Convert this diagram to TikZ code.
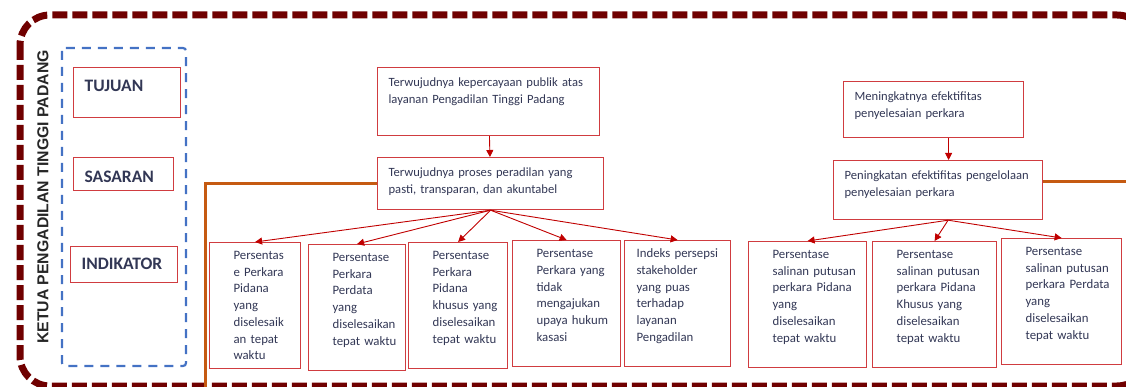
\documentclass[tikz,border=0pt]{standalone}
\usepackage{fontspec}
\setmainfont{Carlito}
\newfontfamily\judulfont{Liberation Sans}
\usetikzlibrary{arrows.meta}

\definecolor{bingkai}{RGB}{112,0,0}
\definecolor{garisbiru}{RGB}{68,114,196}
\definecolor{kotak}{RGB}{208,60,64}
\definecolor{panah}{RGB}{192,0,0}
\definecolor{jingga}{RGB}{197,90,17}
\definecolor{teks}{RGB}{50,55,85}

\begin{document}
\begin{tikzpicture}[x=1pt, y=-1pt]
        \useasboundingbox (0,0) rectangle (1126,387);
        \draw[bingkai, line width=7pt, dash pattern=on 15pt off 5pt, rounded corners=30pt] (20,15) rectangle (1147,386);
        \draw[garisbiru, line width=2.2pt, dash pattern=on 9pt off 7pt, rounded corners=3pt] (62,48) rectangle (186,366);
        \node[font=\judulfont\bfseries\fontsize{15.8}{15.8}\selectfont, rotate=90, text=black!85] (ketua) at (43,197) {KETUA PENGADILAN TINGGI PADANG};
        \coordinate (kiribawah) at (205,392);
        \coordinate (kanan) at (1130,182);
        \begin{scope}[every node/.style={draw=kotak, line width=1.2pt, anchor=north west, align=left, inner xsep=11pt, text=teks, font=\bfseries\fontsize{17.5}{17.5}\selectfont}]
            \node[text width=85pt, inner ysep=8pt, text height=15.5pt, text depth=18.5pt] (tujuan) at (73,67) {TUJUAN};
            \node[text width=78pt, inner ysep=4pt, text height=20.5pt, text depth=4.5pt] (sasaran) at (73,157) {SASARAN};
            \node[text width=85pt, inner ysep=4pt, text height=18.5pt, text depth=9.5pt] (indikator) at (70,246) {INDIKATOR};
        \end{scope}
        \begin{scope}[every node/.style={draw=kotak, line width=1.2pt, anchor=north west, align=left, inner xsep=4pt, inner ysep=9.5pt, text height=9pt, text=teks, execute at begin node={\leftskip=7pt}, font=\fontsize{12.6}{17.5}\selectfont}]
            \node[text width=214pt, text depth=40pt] (t1) at (377,67) {Terwujudnya kepercayaan publik atas\\ layanan Pengadilan Tinggi Padang};
            \node[text width=218pt, text depth=24pt] (s1) at (377,157) {Terwujudnya proses peradilan yang\\ pasti, transparan, dan akuntabel};
            \node[text width=172pt, text depth=28pt] (t2) at (843,81) {Meningkatnya efektifitas\\ penyelesaian perkara};
            \node[text width=201pt, text depth=31pt] (s2) at (833,160) {Peningkatan efektifitas pengelolaan\\ penyelesaian perkara};
        \end{scope}
        \begin{scope}[every node/.style={draw=kotak, line width=1.2pt, anchor=north west, align=left, inner xsep=6pt, inner ysep=8pt, text height=9pt, text depth=101pt, text=teks, execute at begin node={\leftskip=18pt}, font=\fontsize{12.8}{16.7}\selectfont}]
            \node[text width=79pt] (i1) at (209,242) {Persentas\\ e Perkara\\ Pidana\\ yang\\ diselesaik\\ an tepat\\ waktu};
            \node[text width=85pt] (i2) at (308,244) {Persentase\\ Perkara\\ Perdata\\ yang\\ diselesaikan\\ tepat waktu};
            \node[text width=87pt] (i3) at (408,242) {Persentase\\ Perkara\\ Pidana\\ khusus yang\\ diselesaikan\\ tepat waktu};
            \node[text width=96pt] (i4) at (512,240) {Persentase\\ Perkara yang\\ tidak\\ mengajukan\\ upaya hukum\\ kasasi};
            \node[text width=94pt, execute at begin node={\leftskip=6pt}] (i5) at (624,240) {Indeks persepsi\\ stakeholder\\ yang puas\\ terhadap\\ layanan\\ Pengadilan};
            \node[text width=106pt] (i6) at (748,241) {Persentase\\ salinan putusan\\ perkara Pidana\\ yang\\ diselesaikan\\ tepat waktu};
            \node[text width=112pt] (i7) at (872,241) {Persentase\\ salinan putusan\\ perkara Pidana\\ Khusus yang\\ diselesaikan\\ tepat waktu};
            \node[text width=108pt] (i8) at (1001,238) {Persentase\\ salinan putusan\\ perkara Perdata\\ yang\\ diselesaikan\\ tepat waktu};
        \end{scope}
        \begin{scope}[every path/.style={draw=panah, line width=0.9pt, -{Triangle[length=7pt, width=7pt]}}]
            \draw (t1) -- (s1);
            \draw ([xshift=15pt]t2.south) -- ([xshift=15pt]t2.south |- s2.north);
            \foreach \i in {1,...,5} \draw (s1.south) -- (i\i.north);
            \foreach \i in {6,7,8} \draw ([xshift=10pt]s2.south) -- (i\i.north);
        \end{scope}
        \draw[jingga, line width=3pt] (s1.west) -| (kiribawah);
        \draw[jingga, line width=3pt] (s2.east |- kanan) -- (kanan);
    \end{tikzpicture}
\end{document}
